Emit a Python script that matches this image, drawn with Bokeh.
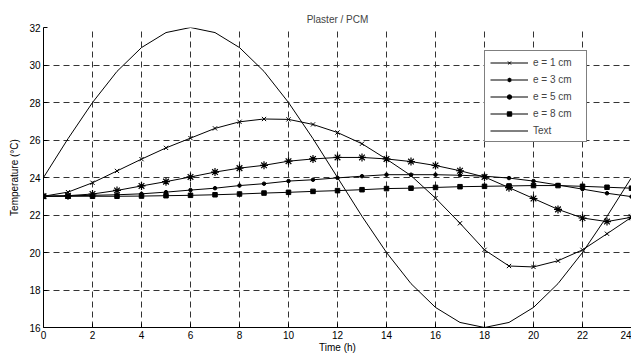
from bokeh.plotting import figure
from bokeh.models import FixedTicker, Legend, LegendItem, Range1d
from bokeh.embed import file_html
from bokeh.resources import INLINE

hours = list(range(25))
e1 = [23.0, 23.22, 23.72, 24.35, 24.98, 25.58, 26.1, 26.62, 26.97, 27.12, 27.1, 26.83, 26.4,
      25.8, 24.98, 24.1, 22.9, 21.56, 20.14, 19.28, 19.23, 19.56, 20.14, 21.0, 21.88]
e3 = [23.0, 23.03, 23.12, 23.31, 23.55, 23.78, 24.03, 24.29, 24.5, 24.65, 24.87, 24.99, 25.07,
      25.07, 24.99, 24.85, 24.64, 24.36, 24.03, 23.46, 22.88, 22.3, 21.84, 21.65, 21.88]
e5 = [23.0, 23.02, 23.05, 23.08, 23.13, 23.22, 23.33, 23.43, 23.57, 23.67, 23.81, 23.88, 23.98,
      24.07, 24.15, 24.15, 24.15, 24.12, 24.07, 23.97, 23.81, 23.6, 23.38, 23.16, 22.98]
e8 = [23.0, 23.0, 23.0, 23.0, 23.01, 23.03, 23.05, 23.08, 23.12, 23.17, 23.21, 23.26, 23.3,
      23.35, 23.41, 23.43, 23.47, 23.51, 23.53, 23.55, 23.57, 23.57, 23.53, 23.48, 23.43]
text_ext = [24.0, 26.07, 28.0, 29.66, 30.93, 31.73, 32.0, 31.73, 30.93, 29.66, 28.0, 26.07, 24.0,
            21.93, 20.0, 18.34, 17.07, 16.27, 16.0, 16.27, 17.07, 18.34, 20.0, 21.93, 24.0]
x_ticks = list(range(0, 25, 2))
y_ticks = list(range(16, 33, 2))

FONT = "Liberation Sans"
FS = "10px"

p = figure(width=631, height=355, output_backend="svg", toolbar_location=None,
           x_range=Range1d(0, 24), y_range=Range1d(16, 32),
           min_border_left=43, min_border_right=0, min_border_top=27, min_border_bottom=25,
           title="Plaster / PCM")
p.title.text_font = FONT
p.title.text_font_size = FS
p.title.text_font_style = "normal"
p.title.align = "center"
p.title.offset = 0
p.title.standoff = 6
p.outline_line_color = None
p.background_fill_color = "white"
p.border_fill_color = "white"

for ax in (p.xaxis[0], p.yaxis[0]):
    ax.major_label_text_font = FONT
    ax.major_label_text_font_size = FS
    ax.axis_label_text_font = FONT
    ax.axis_label_text_font_size = FS
    ax.axis_label_text_font_style = "normal"
    ax.major_tick_in = 4
    ax.major_tick_out = 0
    ax.minor_tick_line_color = None
    ax.axis_line_color = "black"
    ax.major_tick_line_color = "black"
    ax.major_label_text_color = "black"
    ax.axis_label_text_color = "black"
p.xaxis.ticker = FixedTicker(ticks=x_ticks)
p.yaxis.ticker = FixedTicker(ticks=y_ticks)
p.xaxis.axis_label = "Time (h)"
p.yaxis.axis_label = "Temperature (°C)"
p.xaxis.major_label_standoff = 3
p.xaxis.axis_label_standoff = 0
p.yaxis.major_label_standoff = 3
p.yaxis.axis_label_standoff = 6

p.grid.grid_line_color = "#333333"
p.grid.grid_line_dash = "6 4"
p.grid.grid_line_width = 1
p.xgrid.ticker = FixedTicker(ticks=x_ticks)
p.ygrid.ticker = FixedTicker(ticks=y_ticks)

items = []
l1 = p.line(hours, e1, line_color="black", line_width=1)
m1 = p.scatter(hours, e1, marker="x", size=6, line_color="black", line_width=1)
items.append(LegendItem(label="e = 1 cm", renderers=[l1, m1]))
l3 = p.line(hours, e3, line_color="black", line_width=1)
m3 = p.scatter(hours, e3, marker="asterisk", size=8, line_color="black", line_width=1.2)
items.append(LegendItem(label="e = 3 cm", renderers=[l3, m3]))
l5 = p.line(hours, e5, line_color="black", line_width=1)
m5 = p.scatter(hours, e5, marker="circle", size=3.5, line_color="black", fill_color="black")
items.append(LegendItem(label="e = 5 cm", renderers=[l5, m5]))
l8 = p.line(hours, e8, line_color="black", line_width=1)
m8 = p.scatter(hours, e8, marker="square", size=4.5, line_color="black", fill_color="black")
items.append(LegendItem(label="e = 8 cm", renderers=[l8, m8]))
lt = p.line(hours, text_ext, line_color="black", line_width=1)
items.append(LegendItem(label="Text", renderers=[lt]))

legend = Legend(items=items, location=(441, 185), margin=0, padding=5, spacing=5,
                label_height=12, glyph_height=11, glyph_width=38, label_standoff=5,
                label_width=48,
                label_text_font=FONT, label_text_font_size=FS,
                border_line_color="black", border_line_width=1,
                background_fill_color="white", background_fill_alpha=1)
p.add_layout(legend, "center")

open("out.html", "w").write(file_html(p, INLINE))
